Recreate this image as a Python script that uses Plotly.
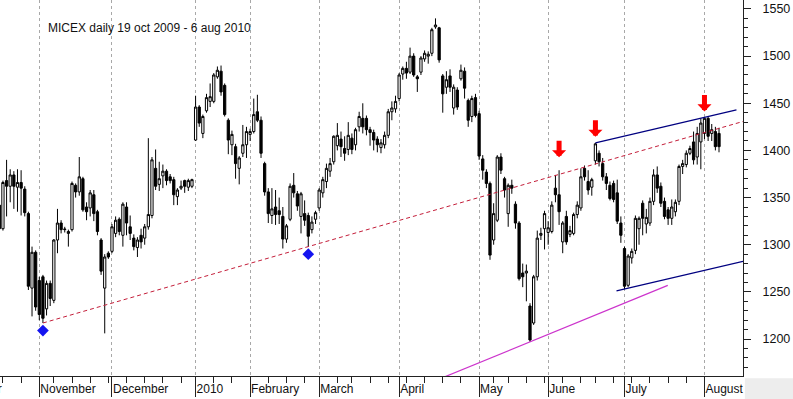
import numpy as np
import pandas as pd
import plotly.graph_objects as go

TITLE = "MICEX daily 19 oct 2009 - 6 aug 2010"

# trading calendar (MICEX), first bar is the partially visible 16 Oct 2009
holidays = ["2009-11-04", "2010-01-01", "2010-01-04", "2010-01-05", "2010-01-06",
            "2010-01-07", "2010-01-08", "2010-02-22", "2010-02-23", "2010-03-08",
            "2010-05-03", "2010-05-10", "2010-06-14"]
extra_days = ["2010-02-27"]

opens = [1342, 1317, 1368, 1362, 1374, 1361, 1366, 1359, 1333, 1254, 1292,
         1262, 1266, 1232, 1259, 1241, 1305, 1323, 1316, 1312, 1316,
         1363, 1356, 1370, 1340, 1339, 1353, 1335, 1305, 1254, 1291,
         1293, 1312, 1327, 1310, 1340, 1319, 1307, 1297, 1310, 1307,
         1319, 1331, 1381, 1364, 1373, 1378, 1372, 1369, 1351, 1360,
         1368, 1361, 1362, 1411, 1446, 1418, 1442, 1452, 1452, 1478,
         1484, 1469, 1432, 1406, 1404, 1381, 1397, 1406, 1417, 1420,
         1441, 1432, 1386, 1356, 1331, 1340, 1336, 1330, 1306, 1327,
         1363, 1354, 1330, 1333, 1331, 1316, 1327, 1339, 1355, 1367,
         1378, 1388, 1405, 1412, 1402, 1401, 1413, 1406, 1425, 1434,
         1434, 1422, 1419, 1412, 1403, 1406, 1416, 1441, 1444, 1455,
         1481, 1487, 1483, 1500, 1478, 1483, 1497, 1500, 1503, 1531,
         1530, 1479, 1467, 1479, 1445, 1464, 1476, 1484, 1453, 1436,
         1456, 1439, 1391, 1377, 1365, 1305, 1326, 1393, 1370, 1333,
         1363, 1343, 1323, 1270, 1270, 1235, 1217, 1266, 1310, 1317,
         1313, 1314, 1360, 1353, 1303, 1330, 1311, 1312, 1332, 1339,
         1381, 1367, 1361, 1389, 1397, 1386, 1372, 1363, 1365, 1355,
         1323, 1296, 1257, 1286, 1294, 1317, 1344, 1322, 1323, 1346,
         1374, 1362, 1346, 1337, 1328, 1335, 1346, 1383, 1385, 1397,
         1409, 1393, 1409, 1418, 1434, 1418, 1420, 1418]

highs = [1346, 1368, 1390, 1380, 1378, 1380, 1379, 1362, 1335, 1298, 1294,
         1266, 1268, 1262, 1262, 1306, 1338, 1326, 1319, 1316, 1367,
         1365, 1393, 1372, 1345, 1358, 1358, 1337, 1307, 1290, 1293,
         1322, 1330, 1329, 1345, 1345, 1331, 1311, 1308, 1317, 1322,
         1413, 1393, 1401, 1388, 1385, 1380, 1375, 1372, 1360, 1368,
         1369, 1370, 1370, 1458, 1448, 1438, 1460, 1471, 1482, 1489,
         1490, 1471, 1434, 1421, 1407, 1394, 1427, 1425, 1423, 1455,
         1459, 1436, 1388, 1360, 1360, 1358, 1350, 1340, 1322, 1365,
         1376, 1357, 1356, 1347, 1334, 1330, 1336, 1360, 1372, 1386,
         1392, 1416, 1429, 1420, 1415, 1430, 1418, 1424, 1441, 1450,
         1437, 1425, 1422, 1415, 1412, 1420, 1444, 1452, 1458, 1482,
         1489, 1494, 1509, 1503, 1480, 1500, 1506, 1505, 1530, 1540,
         1531, 1481, 1484, 1486, 1470, 1467, 1491, 1488, 1455, 1458,
         1460, 1442, 1395, 1380, 1367, 1344, 1395, 1397, 1372, 1365,
         1369, 1346, 1325, 1280, 1279, 1238, 1268, 1315, 1318, 1336,
         1325, 1346, 1374, 1379, 1325, 1336, 1320, 1334, 1346, 1381,
         1384, 1379, 1371, 1408, 1400, 1392, 1376, 1367, 1368, 1369,
         1330, 1298, 1290, 1296, 1331, 1330, 1347, 1338, 1350, 1380,
         1383, 1366, 1350, 1340, 1348, 1348, 1385, 1390, 1400, 1405,
         1420, 1425, 1434, 1435, 1436, 1428, 1425, 1424]

lows = [1315, 1315, 1330, 1345, 1338, 1335, 1331, 1330, 1252, 1224, 1230,
        1220, 1217, 1225, 1235, 1238, 1291, 1312, 1313, 1298, 1314,
        1350, 1352, 1335, 1326, 1330, 1325, 1310, 1268, 1206, 1285,
        1291, 1308, 1310, 1298, 1310, 1305, 1294, 1287, 1296, 1300,
        1316, 1328, 1358, 1357, 1360, 1363, 1365, 1342, 1342, 1358,
        1355, 1357, 1360, 1410, 1425, 1413, 1440, 1446, 1450, 1476,
        1458, 1436, 1396, 1395, 1370, 1364, 1393, 1392, 1410, 1418,
        1430, 1392, 1352, 1323, 1322, 1321, 1322, 1296, 1302, 1325,
        1350, 1336, 1312, 1320, 1298, 1312, 1322, 1336, 1350, 1360,
        1372, 1385, 1400, 1393, 1389, 1395, 1396, 1400, 1420, 1418,
        1416, 1405, 1400, 1398, 1397, 1402, 1413, 1432, 1440, 1452,
        1475, 1476, 1481, 1478, 1462, 1480, 1494, 1492, 1500, 1529,
        1493, 1440, 1460, 1462, 1438, 1443, 1474, 1455, 1425, 1430,
        1435, 1390, 1369, 1360, 1284, 1300, 1324, 1375, 1350, 1319,
        1354, 1317, 1262, 1255, 1240, 1197, 1215, 1262, 1305, 1295,
        1300, 1312, 1345, 1321, 1291, 1300, 1308, 1310, 1328, 1336,
        1368, 1353, 1352, 1385, 1383, 1368, 1358, 1347, 1345, 1322,
        1302, 1253, 1255, 1280, 1290, 1300, 1310, 1312, 1320, 1342,
        1355, 1340, 1327, 1321, 1321, 1330, 1342, 1375, 1382, 1395,
        1385, 1385, 1380, 1412, 1410, 1410, 1400, 1398]

closes = [1317, 1366, 1362, 1374, 1362, 1366, 1360, 1334, 1256, 1292, 1234,
          1226, 1222, 1259, 1243, 1305, 1323, 1316, 1316.5, 1314, 1365,
          1356, 1372, 1337, 1335, 1355, 1333, 1314, 1272, 1287, 1287,
          1319, 1326, 1314, 1343, 1323, 1312, 1298, 1305, 1303, 1319,
          1332, 1390, 1362, 1370, 1378, 1368, 1368, 1353, 1358, 1362,
          1362, 1368, 1369, 1446, 1429, 1436, 1456, 1457, 1480, 1485,
          1462, 1438, 1411, 1417, 1386, 1392, 1406, 1420, 1420, 1438,
          1432, 1397, 1356, 1333, 1338, 1332, 1332, 1306, 1320, 1362,
          1355, 1341, 1354, 1326, 1309, 1324, 1334, 1358, 1369, 1381,
          1386, 1415, 1416, 1404, 1397, 1416, 1401, 1422, 1436, 1425,
          1422, 1419, 1411, 1406, 1408, 1416, 1441, 1445, 1452, 1480,
          1487, 1482, 1500, 1480, 1476, 1498, 1503, 1502, 1528, 1533,
          1496, 1460, 1475, 1467, 1467, 1446, 1485, 1466, 1432, 1455,
          1437, 1394, 1379, 1365, 1289, 1333, 1393, 1379, 1358, 1363,
          1360, 1323, 1264, 1266, 1272, 1199, 1266, 1307, 1312, 1333,
          1318, 1342, 1353, 1335, 1323, 1303, 1315, 1332, 1342, 1372,
          1372, 1358, 1369, 1407, 1388, 1372, 1365, 1349, 1348, 1325,
          1310, 1256, 1288, 1293, 1328, 1328, 1328, 1329, 1346, 1374,
          1360, 1344, 1330, 1328, 1340, 1345, 1383, 1386, 1397, 1402,
          1390, 1418, 1429, 1434, 1415, 1422, 1404, 1404]

month_names = {11: "November", 12: "December", 1: "2010", 2: "February", 3: "March",
               4: "April", 5: "May", 6: "June", 7: "July", 8: "August", 10: "October"}

y_ticks = [1200, 1250, 1300, 1350, 1400, 1450, 1500, 1550]

# swing lows marked with diamonds (bar numbers, 0 = 19 Oct 2009)
support_bars = [11, 84]
# bars under the red arrows
arrow_bars = [153, 163, 193]
# upper channel line through these highs, lower one parallel through this low
channel_high_bars = [163, 193]
channel_low_bar = 171
# magenta support from the May low
magenta_bar = 145
magenta_slope = 1.58

# ---------------------------------------------------------------------------
dates = pd.bdate_range("2009-10-16", "2010-08-06")
dates = dates.difference(pd.to_datetime(holidays)).union(pd.to_datetime(extra_days))
n = len(dates)
xs = np.arange(n) - 1          # bar number, 19 Oct 2009 = 0
pos = {int(b): i for i, b in enumerate(xs)}

X_MIN, X_MAX = -0.81, 203.6
Y_MIN, Y_MAX = 1160.8, 1559.5

ser = pd.Series(xs, index=dates)
month_first = ser.groupby([dates.year, dates.month]).first()
major_vals, major_text = [], []
for (yr, mo), b in month_first.items():
    if b >= 0:
        major_vals.append(int(b))
        major_text.append(month_names[mo])
iso = dates.isocalendar()
week_first = ser.groupby([iso.year.values, iso.week.values]).first()
minor_vals = [int(b) for b in week_first.values]

FONT = "Arial, 'Liberation Sans', sans-serif"

fig = go.Figure()
fig.add_trace(go.Candlestick(
    x=xs, open=opens, high=highs, low=lows, close=closes,
    increasing=dict(line=dict(color="black", width=1), fillcolor="white"),
    decreasing=dict(line=dict(color="black", width=1), fillcolor="black"),
    whiskerwidth=0, hoverinfo="skip", showlegend=False))

# red dashed support through the two swing lows
b1, b2 = support_bars
l1, l2 = lows[pos[b1]], lows[pos[b2]]
k = (l2 - l1) / (b2 - b1)
fig.add_trace(go.Scatter(x=[b1, X_MAX], y=[l1, l1 + k * (X_MAX - b1)], mode="lines",
                         line=dict(color="#c41e3a", width=1, dash="4px,3px"),
                         hoverinfo="skip", showlegend=False))

# diamonds below the swing lows
fig.add_trace(go.Scatter(x=support_bars, y=[lows[pos[b]] - 8 for b in support_bars],
                         mode="markers",
                         marker=dict(symbol="diamond", size=9, color="#1414f0"),
                         hoverinfo="skip", showlegend=False))

# blue channel
h1, h2 = channel_high_bars
v1, v2 = highs[pos[h1]], highs[pos[h2]]
kc = (v2 - v1) / (h2 - h1)
up_end = 201.8
fig.add_trace(go.Scatter(x=[h1, up_end], y=[v1, v1 + kc * (up_end - h1)], mode="lines",
                         line=dict(color="#000080", width=1.2),
                         hoverinfo="skip", showlegend=False))
lv = lows[pos[channel_low_bar]]
lo_start = channel_low_bar - 2.2
fig.add_trace(go.Scatter(x=[lo_start, X_MAX],
                         y=[lv + kc * (lo_start - channel_low_bar), lv + kc * (X_MAX - channel_low_bar)],
                         mode="lines", line=dict(color="#000080", width=1.2),
                         hoverinfo="skip", showlegend=False))

# magenta line
mv = lows[pos[magenta_bar]]
m0, m1 = 121.0, 182.9
fig.add_trace(go.Scatter(x=[m0, m1],
                         y=[mv + magenta_slope * (m0 - magenta_bar), mv + magenta_slope * (m1 - magenta_bar)],
                         mode="lines", line=dict(color="#cc33cc", width=1.2),
                         hoverinfo="skip", showlegend=False))

annotations = []
standoffs = [13, 6, 6]
for b, so in zip(arrow_bars, standoffs):
    annotations.append(dict(
        x=b, y=highs[pos[b]], xref="x", yref="y", text="", showarrow=True,
        arrowhead=1, arrowsize=0.47, arrowwidth=5, arrowcolor="#ff0000",
        ax=0, ay=-(18 + so), standoff=so))

annotations.append(dict(x=46 / 743, y=1 - 28 / 376, xref="paper", yref="paper",
                        text=TITLE, showarrow=False, xanchor="left", yanchor="middle",
                        font=dict(family=FONT, size=12, color="#111111")))

# October label (cut by the left edge)
oct_pos = -12
annotations.append(dict(x=(oct_pos - X_MIN) / (X_MAX - X_MIN), y=0, xref="paper", yref="paper",
                        text="October", showarrow=False, xanchor="left", yanchor="top",
                        xshift=-2, yshift=-4, font=dict(family=FONT, size=12, color="#111111")))

fig.update_layout(
    width=793, height=399,
    margin=dict(l=0, r=50, t=0, b=23, pad=0),
    paper_bgcolor="white", plot_bgcolor="white",
    hovermode=False, showlegend=False,
    boxgap=0.12,
    annotations=annotations,
    shapes=[dict(type="rect", xref="paper", yref="paper", x0=1.0025, x1=1.2,
                 y0=-0.006, y1=-0.1, fillcolor="#ededed", line=dict(width=0),
                 layer="above")],
    font=dict(family=FONT, size=12, color="#111111"),
)

fig.update_xaxes(
    range=[X_MIN, X_MAX], rangeslider=dict(visible=False),
    tickmode="array", tickvals=major_vals, ticktext=major_text,
    ticks="outside", ticklen=20, tickwidth=1, tickcolor="#222222",
    ticklabelposition="outside right", ticklabelstandoff=2,
    tickfont=dict(family=FONT, size=12, color="#111111"),
    showgrid=True, gridcolor="#a8a8a8", gridwidth=1, griddash="3px,3px",
    showline=True, linecolor="#222222", linewidth=1,
    minor=dict(tickmode="array", tickvals=minor_vals, ticks="outside", ticklen=6,
               tickwidth=1, tickcolor="#222222", showgrid=False),
    zeroline=False,
)
fig.update_yaxes(
    range=[Y_MIN, Y_MAX], side="right",
    tickmode="array", tickvals=y_ticks,
    ticks="outside", ticklen=7, tickwidth=1, tickcolor="#222222",
    ticklabelstandoff=9,
    tickfont=dict(family=FONT, size=12.5, color="#111111"),
    showgrid=False, zeroline=False,
    showline=True, linecolor="#222222", linewidth=1,
    minor=dict(dtick=10, tick0=1200, ticks="outside", ticklen=4, tickwidth=1,
               tickcolor="#222222", showgrid=False),
)

fig.write_html("out.html", config={"displayModeBar": False, "staticPlot": True},
               post_script="document.body.style.margin='0';")
